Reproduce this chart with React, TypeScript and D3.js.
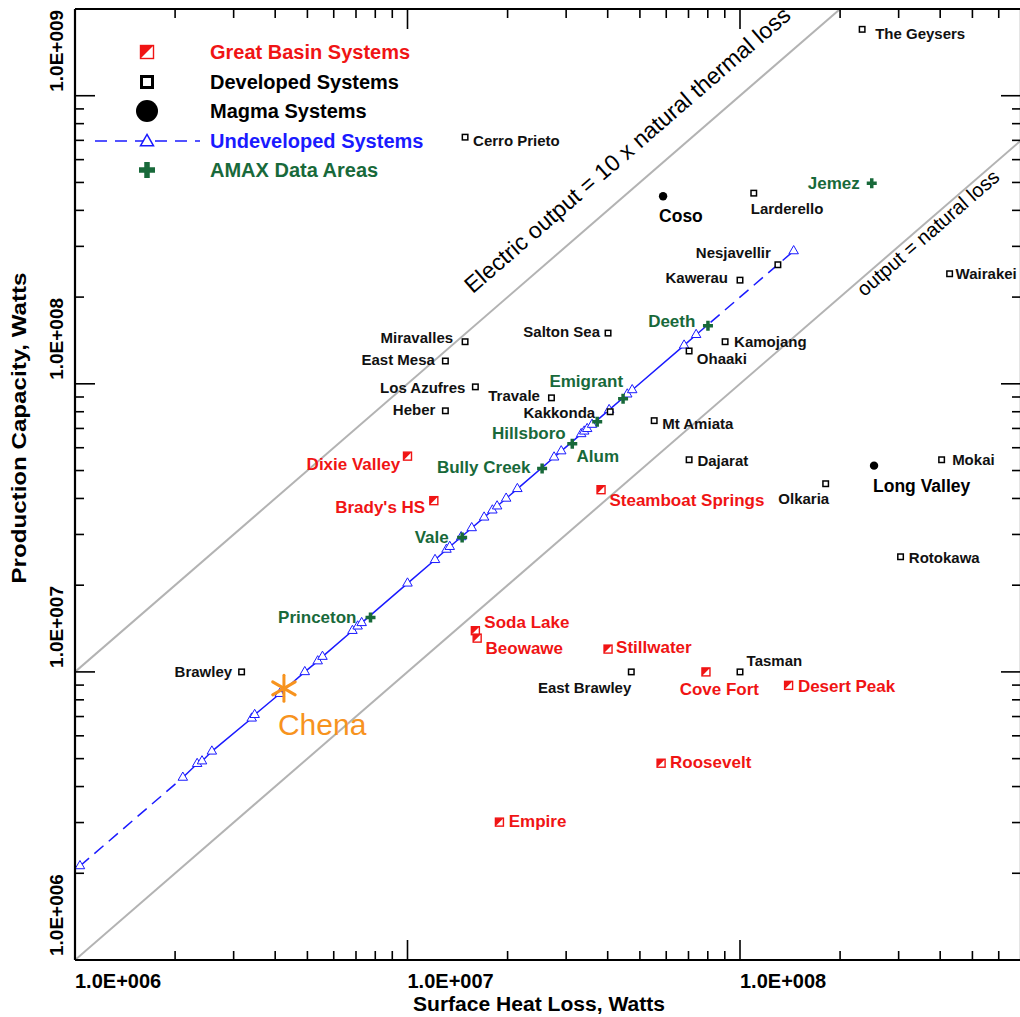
import React from 'react';
import * as d3 from 'd3';

const W = 1020;
const H = 1017;

// ---------- axis ticks ----------
const xTickValues = [1e6, 1e7, 1e8];
const xTickLabels = ['1.0E+006', '1.0E+007', '1.0E+008'];
const yTickValues = [1e6, 1e7, 1e8, 1e9];
const yTickLabels = ['1.0E+006', '1.0E+007', '1.0E+008', '1.0E+009'];

// ---------- Developed systems ----------
const devNames = ['The Geysers', 'Cerro Prieto', 'Larderello', 'Nesjavellir', 'Kawerau', 'Wairakei', 'Salton Sea', 'Miravalles', 'East Mesa', 'Kamojang', 'Ohaaki', 'Los Azufres', 'Travale', 'Heber', 'Kakkonda', 'Mt Amiata', 'Dajarat', 'Mokai', 'Olkaria', 'Rotokawa', 'Brawley', 'East Brawley', 'Tasman'];
const devHeat = [2.33e8, 1.49e7, 1.10e8, 1.30e8, 1.0e8, 4.27e8, 4.01e7, 1.49e7, 1.30e7, 9.02e7, 7.03e7, 1.60e7, 2.71e7, 1.30e7, 4.07e7, 5.52e7, 7.03e7, 4.04e8, 1.81e8, 3.04e8, 3.17e6, 4.71e7, 1.0e8];
const devCapacity = [1.70e9, 7.18e8, 4.59e8, 2.59e8, 2.29e8, 2.41e8, 1.50e8, 1.40e8, 1.20e8, 1.40e8, 1.30e8, 9.76e7, 8.94e7, 8.06e7, 8.0e7, 7.45e7, 5.45e7, 5.45e7, 4.50e7, 2.51e7, 1.0e7, 1.0e7, 1.0e7];

// ---------- Magma systems ----------
const magmaNames = ['Coso', 'Long Valley'];
const magmaHeat = [5.87e7, 2.53e8];
const magmaCapacity = [4.48e8, 5.20e7];

// ---------- Great Basin systems ----------
const gbNames = ['Dixie Valley', "Brady's HS", 'Steamboat Springs', 'Soda Lake', 'Beowawe', 'Stillwater', 'Cove Fort', 'Desert Peak', 'Roosevelt', 'Empire'];
const gbHeat = [1.0e7, 1.2e7, 3.82e7, 1.60e7, 1.62e7, 4.01e7, 7.90e7, 1.40e8, 5.79e7, 1.89e7];
const gbCapacity = [5.61e7, 3.93e7, 4.29e7, 1.39e7, 1.31e7, 1.2e7, 1.0e7, 8.98e6, 4.82e6, 3.01e6];

// ---------- AMAX data areas ----------
const amaxNames = ['Jemez', 'Deeth', 'Emigrant', 'Alum', 'Hillsboro', 'Bully Creek', 'Vale', 'Princeton'];
const amaxHeat = [2.49e8, 8.01e7, 4.45e7, 3.72e7, 3.13e7, 2.54e7, 1.46e7, 7.74e6];
const amaxCapacity = [4.97e8, 1.59e8, 8.87e7, 7.38e7, 6.19e7, 5.08e7, 2.93e7, 1.545e7];

// ---------- Undeveloped systems ----------
const undevHeat = [1.035e6, 2.11e6, 2.33e6, 2.41e6, 2.58e6, 3.40e6, 3.47e6, 4.13e6, 4.91e6, 5.37e6, 5.55e6, 6.83e6, 7.08e6, 7.28e6, 1.0e7, 1.21e7, 1.31e7, 1.34e7, 1.45e7, 1.56e7, 1.70e7, 1.80e7, 1.86e7, 1.98e7, 2.14e7, 2.76e7, 2.90e7, 3.33e7, 3.40e7, 3.47e7, 3.59e7, 4.04e7, 4.58e7, 4.74e7, 6.79e7, 7.38e7, 1.45e8];
const undevCapacity = [2.12e6, 4.3e6, 4.8e6, 4.9e6, 5.3e6, 6.9e6, 7.1e6, 8.4e6, 1.0e7, 1.09e7, 1.13e7, 1.39e7, 1.44e7, 1.48e7, 2.03e7, 2.45e7, 2.66e7, 2.72e7, 2.94e7, 3.16e7, 3.44e7, 3.64e7, 3.76e7, 4.0e7, 4.32e7, 5.56e7, 5.84e7, 6.7e7, 6.84e7, 6.98e7, 7.22e7, 8.12e7, 9.2e7, 9.52e7, 1.36e8, 1.48e8, 2.89e8];

// ---------- Chena ----------
const chenaHeat = 4.25e6;
const chenaCapacity = 8.77e6;

// ---------- reference lines (capacity = factor x heat) ----------
const refFactors = [1, 10];

// ---------- legend ----------
const legendLabels = ['Great Basin Systems', 'Developed Systems', 'Magma Systems', 'Undeveloped Systems', 'AMAX Data Areas'];

// label placement (pixels relative to marker)
type LO = [number, number, 'start' | 'end'];
const labelPos: Record<string, LO> = {
  'The Geysers': [13, 10, 'start'],
  'Cerro Prieto': [8, 8.5, 'start'],
  'Larderello': [-3, 20.5, 'start'],
  'Nesjavellir': [-7, -6.5, 'end'],
  'Kawerau': [-12, 2.5, 'end'],
  'Wairakei': [6, 5.5, 'start'],
  'Salton Sea': [-8, 4, 'end'],
  'Miravalles': [-12, 1.5, 'end'],
  'East Mesa': [-10.5, 4, 'end'],
  'Kamojang': [9, 5.5, 'start'],
  'Ohaaki': [7.7, 13, 'start'],
  'Los Azufres': [-10, 6, 'end'],
  'Travale': [-11.5, 3, 'end'],
  'Heber': [-10, 4, 'end'],
  'Kakkonda': [-15, 6, 'end'],
  'Mt Amiata': [8, 8, 'start'],
  'Dajarat': [8.3, 6, 'start'],
  'Mokai': [10.5, 5.5, 'start'],
  'Olkaria': [3.5, 20, 'end'],
  'Rotokawa': [8.3, 6, 'start'],
  'Brawley': [-9.5, 5.5, 'end'],
  'East Brawley': [0, 21, 'end'],
  'Tasman': [6.6, -5.5, 'start'],
  'Coso': [-4, 25.5, 'start'],
  'Long Valley': [-1, 26, 'start'],
  'Dixie Valley': [-7.3, 13.4, 'end'],
  "Brady's HS": [-8.6, 12.3, 'end'],
  'Steamboat Springs': [8.4, 16, 'start'],
  'Soda Lake': [9, -2.3, 'start'],
  'Beowawe': [8.4, 16, 'start'],
  'Stillwater': [8, 4, 'start'],
  'Cove Fort': [-26.3, 23.3, 'start'],
  'Desert Peak': [9.3, 7, 'start'],
  'Roosevelt': [9, 5, 'start'],
  'Empire': [9.3, 4.4, 'start'],
  'Jemez': [-12, 6, 'end'],
  'Deeth': [-12.6, 1, 'end'],
  'Emigrant': [0, -12.3, 'end'],
  'Alum': [-20.6, 40.3, 'start'],
  'Hillsboro': [-6.6, -5, 'end'],
  'Bully Creek': [-11.6, 4.4, 'end'],
  'Vale': [-13.4, 6, 'end'],
  'Princeton': [-14, 5.5, 'end'],
};

const FONT = "'Liberation Sans', Arial, Helvetica, sans-serif";
const RED = '#f01414';
const BLUE = '#1a1aff';
const GREEN = '#18693a';
const ORANGE = '#f7931e';
const GRAY = '#b3b3b3';

const PLOT = { left: 75, right: 1021, top: 9, bottom: 960 };

const xs = d3.scaleLog().domain([1e6, 7e8]).range([PLOT.left, PLOT.right]);
const ys = d3.scaleLog().domain([1e6, 2e9]).range([PLOT.bottom, PLOT.top]);

function Label({ x, y, name, color, size, weight = 'bold' }: { x: number; y: number; name: string; color: string; size: number; weight?: string }) {
  const p = labelPos[name] || [8, 5, 'start'];
  return (
    <text x={x + p[0]} y={y + p[1]} textAnchor={p[2]} fill={color} fontSize={size} fontWeight={weight} fontFamily={FONT}>
      {name}
    </text>
  );
}

function GBMarker({ x, y, s = 8 }: { x: number; y: number; s?: number }) {
  const h = s / 2;
  return (
    <g transform={`translate(${x},${y})`}>
      <rect x={-h} y={-h} width={s} height={s} fill="#fff" stroke={RED} strokeWidth={1.4} />
      <path d={`M${-h},${-h}H${h}L${-h},${h}Z`} fill={RED} />
    </g>
  );
}

function DevMarker({ x, y, s = 5.5, sw = 1.5 }: { x: number; y: number; s?: number; sw?: number }) {
  return <rect x={x - s / 2} y={y - s / 2} width={s} height={s} fill="#fff" stroke="#000" strokeWidth={sw} />;
}

function Plus({ x, y, r = 5, sw = 3.5 }: { x: number; y: number; r?: number; sw?: number }) {
  return <path d={`M${x - r},${y}H${x + r}M${x},${y - r}V${y + r}`} stroke={GREEN} strokeWidth={sw} fill="none" />;
}

function Tri({ x, y, s = 9.5, sw = 1 }: { x: number; y: number; s?: number; sw?: number }) {
  const h = (s * Math.sqrt(3)) / 2;
  return (
    <path
      d={`M${x},${y - (2 * h) / 3}L${x + s / 2},${y + h / 3}L${x - s / 2},${y + h / 3}Z`}
      fill="#fff"
      stroke={BLUE}
      strokeWidth={sw}
    />
  );
}

export default function App() {
  const line = d3.line<[number, number]>().x((d) => xs(d[0])).y((d) => ys(d[1]));

  const [xmin, xmax] = xs.domain();
  const xTicksAll = xs.ticks();
  const yTicksAll = ys.ticks();
  const isMajor = (v: number) => Math.abs(Math.log10(v) - Math.round(Math.log10(v))) < 1e-6;

  const angle = (Math.atan2(ys(1e6) - ys(1e7), xs(1e7) - xs(1e6)) * 180) / Math.PI;

  const undevPts: [number, number][] = undevHeat.map((h, i) => [h, undevCapacity[i]]);
  const n = undevPts.length;
  const solidPts = undevPts.slice(1, n - 1);
  const dashStart = undevPts.slice(0, 2);
  const dashEnd = undevPts.slice(n - 2);

  // upper/lower reference line label anchors (on the line)
  const upAnchorX = 1.76e7;
  const lowAnchorX = 2.2e8;

  const legendY = [52, 82, 111, 141, 170];
  const legendColors = [RED, '#000', '#000', BLUE, GREEN];

  const chX = xs(chenaHeat);
  const chY = ys(chenaCapacity);
  const starR = 13;

  return (
    <svg width={W} height={H} style={{ position: 'absolute', left: 0, top: 0, background: '#fff' }} fontFamily={FONT}>
      <rect x={0} y={0} width={W} height={H} fill="#fff" />
      <defs>
        <clipPath id="plotclip">
          <rect x={PLOT.left} y={PLOT.top} width={PLOT.right - PLOT.left} height={PLOT.bottom - PLOT.top} />
        </clipPath>
      </defs>

      {/* reference lines */}
      <g clipPath="url(#plotclip)">
        {refFactors.map((f) => (
          <path key={f} d={line([[xmin, xmin * f], [xmax, xmax * f]]) || ''} stroke={GRAY} strokeWidth={2} fill="none" />
        ))}
      </g>

      {/* reference line labels */}
      <g transform={`translate(${xs(upAnchorX)},${ys(upAnchorX * 10)}) rotate(${-angle})`}>
        <text x={0} y={-25} fontSize={23} fill="#000" fontFamily={FONT}>
          Electric output = 10 x natural thermal loss
        </text>
      </g>
      <g transform={`translate(${xs(lowAnchorX)},${ys(lowAnchorX)}) rotate(${-angle})`}>
        <text x={0} y={16} fontSize={20} fill="#000" fontFamily={FONT}>
          output = natural loss
        </text>
      </g>

      {/* undeveloped line */}
      <path d={line(solidPts) || ''} stroke={BLUE} strokeWidth={1.5} fill="none" />
      <path d={line(dashStart) || ''} stroke={BLUE} strokeWidth={1.5} fill="none" strokeDasharray="12 7" />
      <path d={line(dashEnd) || ''} stroke={BLUE} strokeWidth={1.5} fill="none" strokeDasharray="12 7" />
      {undevPts.map((d, i) => (
        <Tri key={i} x={xs(d[0])} y={ys(d[1])} />
      ))}

      {/* developed */}
      {devNames.map((nm, i) => (
        <g key={nm}>
          <DevMarker x={xs(devHeat[i])} y={ys(devCapacity[i])} />
          <Label x={xs(devHeat[i])} y={ys(devCapacity[i])} name={nm} color="#111" size={15} />
        </g>
      ))}

      {/* magma */}
      {magmaNames.map((nm, i) => (
        <g key={nm}>
          <circle cx={xs(magmaHeat[i])} cy={ys(magmaCapacity[i])} r={4.2} fill="#000" />
          <Label x={xs(magmaHeat[i])} y={ys(magmaCapacity[i])} name={nm} color="#000" size={17.5} />
        </g>
      ))}

      {/* great basin */}
      {gbNames.map((nm, i) => (
        <g key={nm}>
          <GBMarker x={xs(gbHeat[i])} y={ys(gbCapacity[i])} />
          <Label x={xs(gbHeat[i])} y={ys(gbCapacity[i])} name={nm} color={RED} size={17} />
        </g>
      ))}

      {/* amax */}
      {amaxNames.map((nm, i) => (
        <g key={nm}>
          <Plus x={xs(amaxHeat[i])} y={ys(amaxCapacity[i])} />
          <Label x={xs(amaxHeat[i])} y={ys(amaxCapacity[i])} name={nm} color={GREEN} size={17} />
        </g>
      ))}

      {/* Chena */}
      <g stroke={ORANGE} strokeWidth={3} strokeLinecap="round">
        {[90, 30, 150].map((a) => {
          const r = (a * Math.PI) / 180;
          return (
            <line
              key={a}
              x1={chX - starR * Math.cos(r)}
              y1={chY - starR * Math.sin(r)}
              x2={chX + starR * Math.cos(r)}
              y2={chY + starR * Math.sin(r)}
            />
          );
        })}
      </g>
      <text x={chX - 6} y={chY + 47} fontSize={30} fill={ORANGE} fontFamily={FONT}>
        Chena
      </text>

      {/* legend */}
      <GBMarker x={147} y={legendY[0]} s={13} />
      <rect x={141.5} y={legendY[1] - 5.5} width={11} height={11} fill="#fff" stroke="#000" strokeWidth={3} />
      <circle cx={147} cy={legendY[2]} r={11} fill="#000" />
      <line x1={95} x2={200} y1={legendY[3]} y2={legendY[3]} stroke={BLUE} strokeWidth={1.5} strokeDasharray="12 8" />
      <Tri x={147} y={legendY[3] + 1} s={13} sw={1.5} />
      <Plus x={147} y={legendY[4]} r={8} sw={5.5} />
      {legendLabels.map((t, i) => (
        <text key={t} x={210} y={legendY[i] + 7} fontSize={20} fontWeight="bold" fill={legendColors[i]} fontFamily={FONT}>
          {t}
        </text>
      ))}

      {/* axes frame */}
      <g stroke="#000" strokeWidth={2.2} fill="none">
        <line x1={PLOT.left} x2={PLOT.right} y1={PLOT.bottom} y2={PLOT.bottom} />
        <line x1={PLOT.left} x2={PLOT.right} y1={PLOT.top} y2={PLOT.top} />
        <line x1={PLOT.left} x2={PLOT.left} y1={PLOT.top} y2={PLOT.bottom} />
        <line x1={PLOT.right} x2={PLOT.right} y1={PLOT.top} y2={PLOT.bottom} />
      </g>
      <g stroke="#000" strokeWidth={1.6}>
        {xTicksAll.map((v, i) => {
          const x = xs(v);
          const len = isMajor(v) ? 20 : 9;
          return (
            <g key={'xt' + i}>
              <line x1={x} x2={x} y1={PLOT.bottom} y2={PLOT.bottom - len} />
              <line x1={x} x2={x} y1={PLOT.top} y2={PLOT.top + len} />
            </g>
          );
        })}
        {yTicksAll.map((v, i) => {
          const y = ys(v);
          const len = isMajor(v) ? 20 : 9;
          return (
            <g key={'yt' + i}>
              <line x1={PLOT.left} x2={PLOT.left + len} y1={y} y2={y} />
              <line x1={PLOT.right} x2={PLOT.right - len} y1={y} y2={y} />
            </g>
          );
        })}
      </g>

      {/* tick labels */}
      {xTickValues.map((v, i) => (
        <text key={'xl' + i} x={xs(v)} y={988} fontSize={20} fontWeight="bold" fill="#000" fontFamily={FONT}>
          {xTickLabels[i]}
        </text>
      ))}
      {yTickValues.map((v, i) => (
        <text
          key={'yl' + i}
          transform={`translate(63,${ys(v) - 4}) rotate(-90)`}
          fontSize={19}
          fontWeight="bold"
          fill="#000"
          fontFamily={FONT}
        >
          {yTickLabels[i]}
        </text>
      ))}

      {/* axis titles */}
      <text x={539} y={1011} textAnchor="middle" fontSize={20} fontWeight="bold" fontFamily={FONT} textLength={252} lengthAdjust="spacingAndGlyphs">
        Surface Heat Loss, Watts
      </text>
      <text
        transform="translate(26,428) rotate(-90)"
        textAnchor="middle"
        fontSize={21}
        fontWeight="bold"
        fontFamily={FONT}
        textLength={311}
        lengthAdjust="spacingAndGlyphs"
      >
        Production Capacity, Watts
      </text>
    </svg>
  );
}
